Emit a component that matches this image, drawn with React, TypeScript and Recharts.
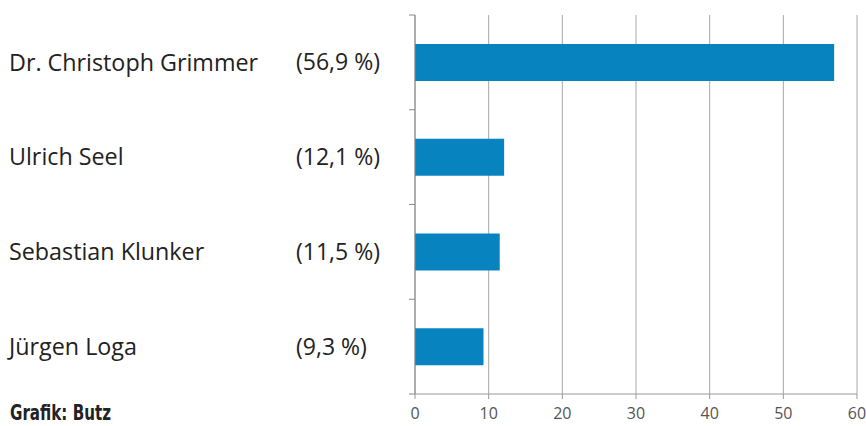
import React from "react";
import { BarChart, Bar, XAxis, YAxis, CartesianGrid } from "recharts";

const names = ["Dr. Christoph Grimmer", "Ulrich Seel", "Sebastian Klunker", "Jürgen Loga"];
const shares = [56.9, 12.1, 11.5, 9.3];
const shareLabels = ["(56,9 %)", "(12,1 %)", "(11,5 %)", "(9,3 %)"];
const xTicks = [0, 10, 20, 30, 40, 50, 60];
const sourceText = "Grafik: Butz";

const data = names.map((n, i) => ({ name: n, value: shares[i], label: shareLabels[i] }));

const W = 866;
const H = 426;
const TOP = 15;
const RIGHT = 9;
const Y_WIDTH = 415;
const X_HEIGHT = 32;
const BAND = (H - TOP - X_HEIGHT) / names.length;

const CategoryTick = (props: any) => {
  const { y, payload, index } = props;
  const i = index ?? names.indexOf(payload.value);
  const lbl = shareLabels[i];
  const axisX = Y_WIDTH;
  return (
    <g>
      <text
        x={9}
        y={y}
        dy="0.35em"
        fill="#222"
        fontSize={23.3}
        fontFamily="'Open Sans', sans-serif"
      >
        {payload.value}
      </text>
      <text
        x={296}
        y={y}
        dy="0.35em"
        fill="#222"
        fontSize={23}
        fontFamily="'Open Sans', sans-serif"
      >
        {lbl}
      </text>
      <line x1={axisX - 6} x2={axisX} y1={y - BAND / 2} y2={y - BAND / 2} stroke="#888" strokeWidth={1} />
      {i === names.length - 1 ? (
        <line x1={axisX - 6} x2={axisX} y1={y + BAND / 2} y2={y + BAND / 2} stroke="#888" strokeWidth={1} />
      ) : null}
    </g>
  );
};

export default function App() {
  return (
    <div style={{ position: "absolute", left: 0, top: 0, width: W, height: H, background: "#fff", overflow: "hidden" }}>
      <BarChart
        width={W}
        height={H}
        data={data}
        layout="vertical"
        margin={{ top: TOP, right: RIGHT, left: 0, bottom: 0 }}
        barCategoryGap={0}
      >
        <CartesianGrid horizontal={false} vertical={true} stroke="#a8a8a8" strokeWidth={1} />
        <XAxis
          type="number"
          domain={[0, 60]}
          ticks={xTicks}
          height={X_HEIGHT}
          axisLine={{ stroke: "#999" }}
          tickLine={{ stroke: "#999" }}
          tickSize={5}
          tickMargin={9}
          tick={{ fill: "#555", fontSize: 16, fontFamily: "'Open Sans', sans-serif" }}
          interval={0}
        />
        <YAxis
          type="category"
          dataKey="name"
          width={Y_WIDTH}
          axisLine={{ stroke: "#888" }}
          tickLine={false}
          tick={<CategoryTick />}
          interval={0}
        />
        <Bar dataKey="value" fill="#0784bf" barSize={37} isAnimationActive={false} />
      </BarChart>
      <div
        style={{
          position: "absolute",
          left: 10,
          top: 401,
          fontFamily: "'DejaVu Sans', sans-serif",
          fontWeight: "bold",
          fontSize: 21,
          color: "#222",
          lineHeight: "24px",
          whiteSpace: "nowrap",
          transform: "scaleX(0.72)",
          transformOrigin: "left top",
        }}
      >
        {sourceText}
      </div>
    </div>
  );
}
